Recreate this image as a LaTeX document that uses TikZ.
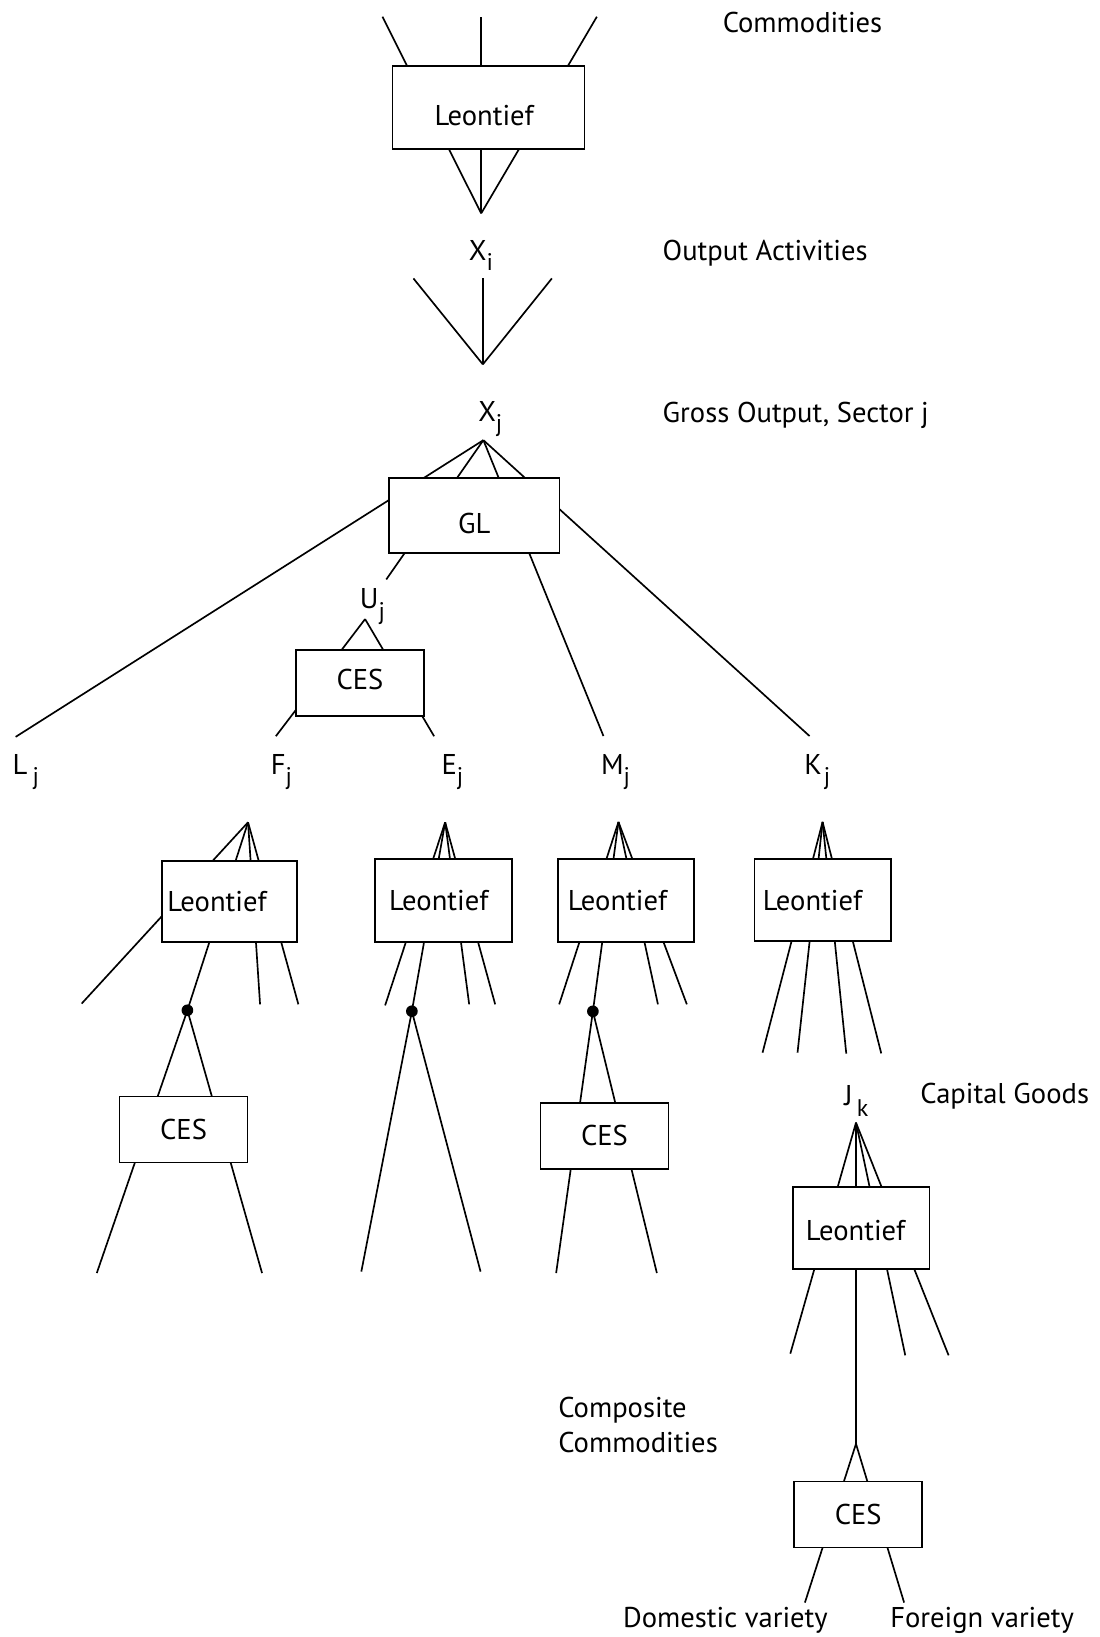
\documentclass[tikz,border=0pt]{standalone}
\usepackage{fontspec}
\setmainfont{PT Sans}
\usetikzlibrary{positioning}
\newcommand{\lowix}[1]{\raisebox{-5pt}{\fontsize{11.5}{12}\selectfont #1}}

\begin{document}
\begin{tikzpicture}[x=0.5pt, y=-0.5pt, line width=0.8pt,
    font=\fontsize{13.7}{16.5}\selectfont,
    box/.style={draw, fill=white, inner ysep=2pt},
    leo/.style 2 args={box, inner xsep=#1, text width=#2, align=left},
    ces/.style={box, minimum width=61.4pt, minimum height=31.6pt},
    lbl/.style={inner sep=0pt, anchor=base west},
    dot/.style={circle, fill, inner sep=0pt, minimum size=5.6pt}]
    \useasboundingbox (0,0) rectangle (1053,1568);

    % output activities
    \coordinate (c1) at (366.3,16);
    \coordinate (c2) at (460.9,16);
    \coordinate (c3) at (571.7,16);
    \coordinate (xi) at (460.9,204.4);
    \path (xi) edge (c1) edge (c2) edge (c3);
    \node (leo0) [leo={20.15pt}{51.65pt}, minimum height=39.9pt, text height=16.9pt, text depth=0pt] at (467.85,102.9) {Leontief};

    \coordinate (v1) at (396,266.7);
    \coordinate (v2) at (462.5,266.7);
    \coordinate (v3) at (528.6,266.7);
    \coordinate (xj) at (462.5,349);
    \path (xj) edge (v1) edge (v2) edge (v3);

    % gross output
    \coordinate (gj) at (463,421.6);
    \coordinate (lj) at (15,705.8);
    \coordinate (uj) at (370,555);
    \coordinate (mj) at (578,705);
    \coordinate (kj) at (775.4,705);
    \path (gj) edge (lj) edge (uj) edge (mj) edge (kj);
    \node (gl) [box, minimum width=81.6pt, minimum height=35.95pt, text height=17.6pt, text depth=0pt] at (454.3,493.65) {GL};

    \coordinate (ua) at (349.7,593);
    \coordinate (fj) at (264.2,705.2);
    \coordinate (ej) at (415.8,705.2);
    \path (ua) edge (fj) edge (ej);
    \node (cesu) [ces, minimum width=61.5pt, text depth=4pt] at (344.8,654.4) {CES};

    % F_j
    \coordinate (fa) at (237.6,787.6);
    \node (fdot) [dot] at (179.5,967.7) {};
    \coordinate (f1) at (78.2,961.3);
    \coordinate (f2) at (249.1,962);
    \coordinate (f3) at (285.8,962);
    \coordinate (f4) at (92.7,1219.4);
    \coordinate (f5) at (251,1219.4);
    \path (fa) edge (f1) edge (fdot.center) edge (f2) edge (f3);
    \path (fdot.center) edge (f4) edge (f5);
    \node (leof) [leo={2.55pt}{59.6pt}, minimum height=38.8pt] at (219.9,863.8) {Leontief};
    \node (cesf) [ces] at (175.8,1081.75) {CES};

    % E_j
    \coordinate (ea) at (426.4,787.6);
    \node (edot) [dot] at (394.5,968.6) {};
    \coordinate (e1) at (368.9,963);
    \coordinate (e2) at (449.4,962);
    \coordinate (e3) at (474.3,962);
    \coordinate (e4) at (346.1,1218);
    \coordinate (e5) at (460.3,1218);
    \path (ea) edge (e1) edge (edot.center) edge (e2) edge (e3);
    \path (edot.center) edge (e4) edge (e5);
    \node (leoe) [leo={6.7pt}{52.25pt}, minimum height=39.8pt] at (424.95,862.8) {Leontief};

    % M_j
    \coordinate (ma) at (592.4,787.3);
    \node (mdot) [dot] at (567.9,968.7) {};
    \coordinate (m1) at (535.6,962);
    \coordinate (m2) at (630.2,962);
    \coordinate (m3) at (657.9,962);
    \coordinate (m4) at (532.7,1219.4);
    \coordinate (m5) at (629.2,1219.4);
    \path (ma) edge (m1) edge (mdot.center) edge (m2) edge (m3);
    \path (mdot.center) edge (m4) edge (m5);
    \node (leom) [leo={4.8pt}{55.75pt}, minimum height=39.65pt] at (599.65,862.65) {Leontief};
    \node (cesm) [ces] at (579,1088) {CES};

    % K_j
    \coordinate (ka) at (787.9,787.3);
    \coordinate (k1) at (730.4,1008.3);
    \coordinate (k2) at (763.9,1008.3);
    \coordinate (k3) at (810.6,1009.2);
    \coordinate (k4) at (844.1,1009);
    \path (ka) edge (k1) edge (k2) edge (k3) edge (k4);
    \node (leok) [leo={4pt}{57.35pt}, minimum height=39.3pt] at (788.05,862.3) {Leontief};

    % J_k
    \coordinate (ja) at (819.9,1075.3);
    \coordinate (j1) at (757,1296.6);
    \coordinate (j2) at (867.1,1298.2);
    \coordinate (j3) at (908.6,1298.2);
    \coordinate (jc) at (819.9,1383);
    \coordinate (dv) at (771,1535);
    \coordinate (fv) at (866,1535);
    \path (ja) edge (j1) edge (jc) edge (j2) edge (j3);
    \path (jc) edge (dv) edge (fv);
    \node (leoj) [leo={6.25pt}{52.95pt}, minimum height=39.4pt, text height=12pt, text depth=0pt] at (824.95,1176.4) {Leontief};
    \node (cesj) [ces] at (822,1450.5) {CES};

    % labels
    \node (lcom) [lbl] at (691.5,31) {Commodities};
    \node (lxi) [lbl] at (448.4,249.1) {X\lowix{i}};
    \node (lout) [lbl] at (634,249.1) {Output Activities};
    \node (lxj) [lbl] at (457.3,403.6) {X\lowix{j}};
    \node (lgross) [lbl] at (634,404.5) {Gross Output, Sector j};
    \node (luj) [lbl] at (344,583) {U\lowix{j}};
    \node (llj) [lbl] at (11.2,741.9) {L\hspace{2.5pt}\lowix{j}};
    \node (lfj) [lbl] at (258.7,741.9) {F\lowix{j}};
    \node (lej) [lbl] at (422.2,741.9) {E\lowix{j}};
    \node (lmj) [lbl] at (574.9,741.9) {M\lowix{j}};
    \node (lkj) [lbl] at (769.7,741.9) {K\hspace{1pt}\lowix{j}};
    \node (ljk) [lbl] at (808,1059) {J\hspace{2pt}\lowix{k}};
    \node (lcap) [lbl] at (880.8,1057) {Capital Goods};
    \node (lcc) [lbl, align=left] at (534,1391) {Composite\\Commodities};
    \node (ldom) [lbl] at (596,1559) {Domestic variety};
    \node (lfor) [lbl] at (852,1559) {Foreign variety};
\end{tikzpicture}
\end{document}
